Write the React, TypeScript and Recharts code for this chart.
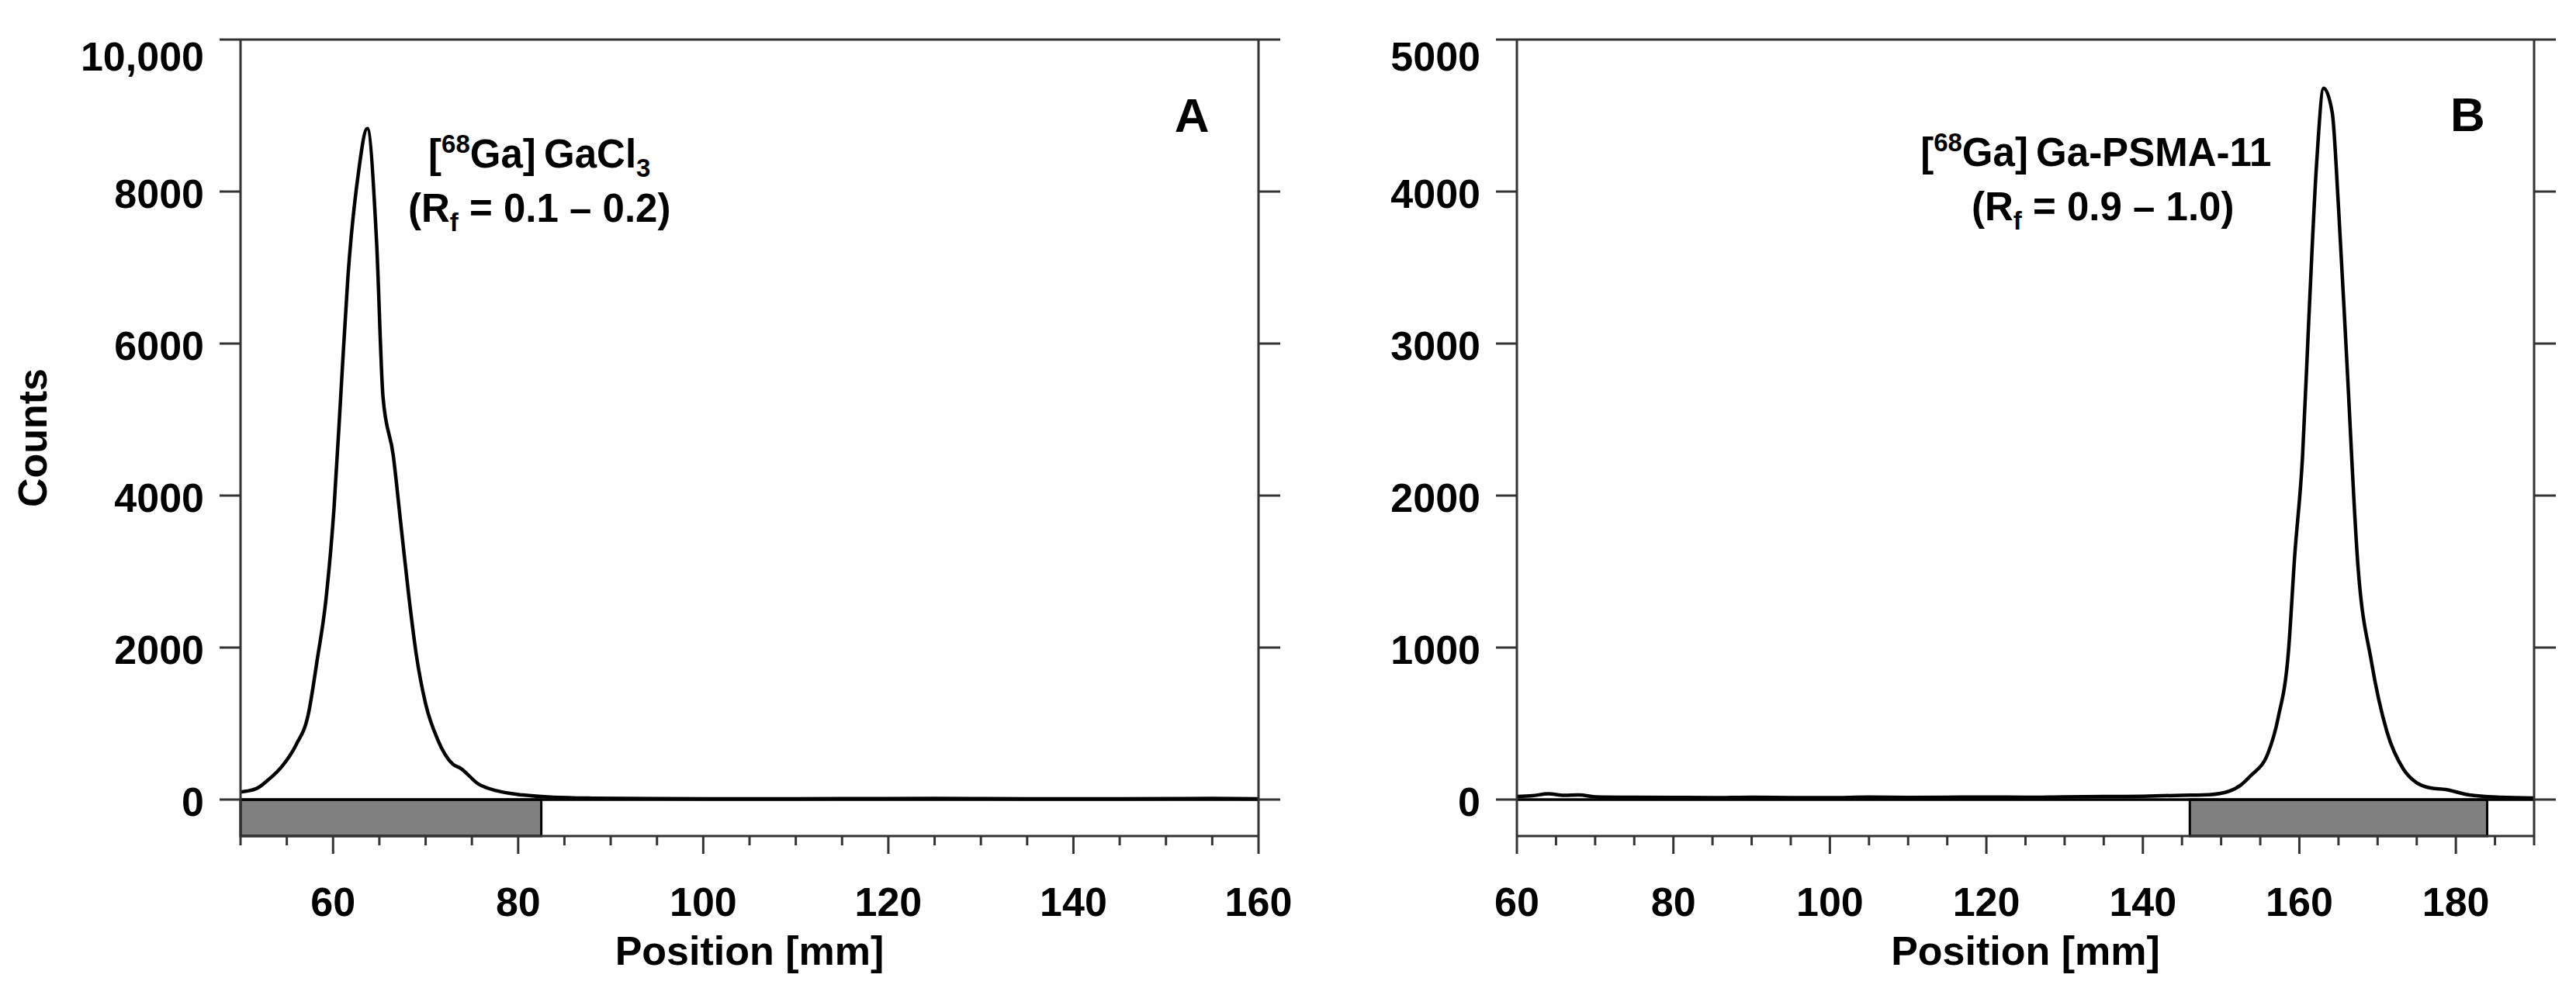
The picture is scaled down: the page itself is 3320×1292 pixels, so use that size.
import React from 'react';
import {
  ComposedChart,
  Line,
  XAxis,
  YAxis,
  ReferenceArea,
  ReferenceLine,
  ReferenceDot,
} from 'recharts';

const FONT = '"Liberation Sans", Arial, Helvetica, sans-serif';
const FRAME = '#333333';

// ---- panel A: [68Ga]GaCl3 ----
const positionA = [
  50, 51.7, 53, 54.5, 56, 57.3, 58.3, 59.2, 60.1, 60.9, 61.6, 62.7, 63.7, 64.7, 65.4, 66.5,
  67.3, 68.2, 69, 70, 71.3, 72.9, 73.8, 75.7, 77.7, 80.5, 83.8, 88, 95, 105, 115, 125, 135,
  145, 155, 160,
];
const countsA = [
  100, 143, 260, 440, 720, 1110, 1850, 2600, 3830, 5460, 6870, 8210, 8830, 7340, 5290, 4530,
  3650, 2660, 1900, 1260, 790, 470, 410, 205, 115, 60, 30, 18, 12, 10, 12, 14, 10,
  10, 14, 10,
];
const xTicksA = [50, 55, 60, 65, 70, 75, 80, 85, 90, 95, 100, 105, 110, 115, 120, 125, 130, 135, 140, 145, 150, 155, 160];
const yTicksA = [0, 2000, 4000, 6000, 8000, 10000];
const xDomainA = [50, 160];
const yDomainA = [-480, 10000];
const rfZoneA = [50, 82.5];

// ---- panel B: [68Ga]Ga-PSMA-11 ----
const positionB = [
  60, 62, 64, 66, 68, 70, 75, 80, 85, 90, 95, 100, 105, 110, 115, 120, 125, 130, 135, 140,
  145, 147.7, 150.4, 152.5, 153.7, 156, 157.3, 158.6, 159.4, 160.4, 161.2, 162.2, 163.1,
  164.2, 165, 166, 167.5, 169.2, 171.2, 173.3, 175, 176.8, 178.7, 181.7, 185.7, 190,
];
const countsB = [
  20, 25, 38, 28, 30, 18, 15, 14, 12, 15, 13, 12, 16, 14, 15, 17, 15, 18, 20, 22,
  28, 30, 46, 95, 153, 306, 540, 970, 1600, 2250, 3150, 4180, 4680,
  4520, 3900, 2950, 1530, 910, 445, 200, 110, 76, 66, 30, 15, 10,
];
const xTicksB = [60, 65, 70, 75, 80, 85, 90, 95, 100, 105, 110, 115, 120, 125, 130, 135, 140, 145, 150, 155, 160, 165, 170, 175, 180, 185, 190];
const yTicksB = [0, 1000, 2000, 3000, 4000, 5000];
const xDomainB = [60, 190];
const yDomainB = [-240, 5000];
const rfZoneB = [146, 184];

const textStyle = { fontFamily: FONT, fontWeight: 'bold' as const, fill: '#000' };

const BottomTick = (props: any) => {
  const { x, y, payload } = props;
  const major = payload.value % 20 === 0;
  return (
    <g>
      <line x1={x} x2={x} y1={y} y2={y + (major ? 23 : 12)} stroke={FRAME} strokeWidth={3} />
      {major && (
        <text x={x} y={y + 85} textAnchor="middle" dominantBaseline="central" fontSize={52} {...textStyle}>
          {payload.value}
        </text>
      )}
    </g>
  );
};

const TopTick = (props: any) => {
  const { x, y, payload } = props;
  const major = payload.value % 20 === 0;
  return <line x1={x} x2={x} y1={y} y2={y - (major ? 20 : 9)} stroke={FRAME} strokeWidth={3} />;
};

const makeLeftTick = (top: number) => (props: any) => {
  const { x, y, payload } = props;
  const label = payload.value >= 10000 ? payload.value.toLocaleString('en-US') : String(payload.value);
  return (
    <g>
      <line x1={x - 27} x2={x} y1={y} y2={y} stroke={FRAME} strokeWidth={3} />
      <text
        x={x - 47}
        y={y + (payload.value === top ? 22 : 3)}
        textAnchor="end"
        dominantBaseline="central"
        fontSize={52}
        {...textStyle}
      >
        {label}
      </text>
    </g>
  );
};

const RightTick = (props: any) => {
  const { x, y } = props;
  return <line x1={x} x2={x + 28} y1={y} y2={y} stroke={FRAME} strokeWidth={3} />;
};

const Panel = ({
  width,
  positions,
  counts,
  xDomain,
  yDomain,
  xTicks,
  yTicks,
  zone,
  leftWidth,
  rightWidth,
  showYTitle,
  annotation,
  letter,
}: any) => {
  const data = positions.map((p: number, i: number) => ({ position: p, counts: counts[i] }));
  const LeftTick = makeLeftTick(yDomain[1]);
  return (
    <ComposedChart width={width} height={1292} data={data} margin={{ top: 0, right: 0, bottom: 0, left: 0 }}>
      <XAxis
        xAxisId="top"
        orientation="top"
        type="number"
        domain={xDomain}
        ticks={xTicks}
        interval={0}
        height={51}
        allowDataOverflow
        tickSize={0}
        tickMargin={0}
        tickLine={false}
        tick={TopTick}
        axisLine={{ stroke: FRAME, strokeWidth: 3 }}
      />
      <XAxis
        xAxisId="bottom"
        dataKey="position"
        type="number"
        domain={xDomain}
        ticks={xTicks}
        interval={0}
        height={214}
        allowDataOverflow
        tickSize={0}
        tickMargin={0}
        tickLine={false}
        tick={BottomTick}
        axisLine={{ stroke: FRAME, strokeWidth: 3 }}
        label={{
          content: (p: any) => {
            const vb = p.viewBox || { x: 0, y: 0, width: 0 };
            return (
              <text x={vb.x + vb.width / 2} y={vb.y + 166} textAnchor="middle" fontSize={52} {...textStyle}>
                Position [mm]
              </text>
            );
          },
        }}
      />
      <YAxis
        yAxisId="left"
        type="number"
        domain={yDomain}
        ticks={yTicks}
        interval={0}
        width={leftWidth}
        allowDataOverflow
        tickSize={0}
        tickMargin={0}
        tickLine={false}
        tick={LeftTick}
        axisLine={{ stroke: FRAME, strokeWidth: 3 }}
        label={
          showYTitle
            ? {
                content: (p: any) => {
                  const vb = p.viewBox || { x: 0, y: 0, height: 0 };
                  const cx = vb.x + 42;
                  const cy = vb.y + vb.height / 2;
                  return (
                    <text
                      x={cx}
                      y={cy}
                      transform={`rotate(-90, ${cx}, ${cy})`}
                      textAnchor="middle"
                      dominantBaseline="central"
                      fontSize={52}
                      {...textStyle}
                    >
                      Counts
                    </text>
                  );
                },
              }
            : undefined
        }
      />
      <YAxis
        yAxisId="right"
        orientation="right"
        type="number"
        domain={yDomain}
        ticks={yTicks}
        interval={0}
        width={rightWidth}
        allowDataOverflow
        tickSize={0}
        tickMargin={0}
        tickLine={false}
        tick={RightTick}
        axisLine={{ stroke: FRAME, strokeWidth: 3 }}
      />
      <ReferenceArea
        xAxisId="bottom"
        yAxisId="left"
        x1={zone[0]}
        x2={zone[1]}
        y1={yDomain[0]}
        y2={0}
        fill="#808080"
        fillOpacity={1}
        stroke="#000"
        strokeWidth={3}
      />
      <ReferenceLine xAxisId="bottom" yAxisId="left" y={0} stroke="#000" strokeWidth={3.5} />
      <Line
        xAxisId="bottom"
        yAxisId="left"
        type="monotone"
        dataKey="counts"
        stroke="#000"
        strokeWidth={4.5}
        strokeLinejoin="round"
        dot={false}
        isAnimationActive={false}
      />
      <ReferenceDot
        xAxisId="bottom"
        yAxisId="left"
        x={annotation.x}
        y={annotation.y}
        r={0}
        fill="none"
        stroke="none"
        label={{
          content: (p: any) => {
            const vb = p.viewBox || { x: 0, y: 0 };
            return (
              <g>
                <text x={vb.x} y={vb.y} textAnchor="middle" fontSize={51} {...textStyle}>
                  [<tspan dy={-19} fontSize={33}>68</tspan>
                  <tspan dy={19}>Ga]{'\u2009'}{annotation.name}</tspan>
                  {annotation.sub && (
                    <tspan dy={12} fontSize={33}>
                      {annotation.sub}
                    </tspan>
                  )}
                </text>
                <text x={vb.x + annotation.dx2} y={vb.y + 70} textAnchor="middle" fontSize={51} {...textStyle}>
                  (R<tspan dy={12} fontSize={33}>f</tspan>
                  <tspan dy={-12}> = {annotation.rf})</tspan>
                </text>
              </g>
            );
          },
        }}
      />
      <ReferenceDot
        xAxisId="bottom"
        yAxisId="left"
        x={letter.x}
        y={letter.y}
        r={0}
        fill="none"
        stroke="none"
        label={{
          content: (p: any) => {
            const vb = p.viewBox || { x: 0, y: 0 };
            return (
              <text x={vb.x} y={vb.y} textAnchor="middle" fontSize={62} {...textStyle}>
                {letter.text}
              </text>
            );
          },
        }}
      />
    </ComposedChart>
  );
};

export default function App() {
  return (
    <div
      style={{
        position: 'absolute',
        left: 0,
        top: 0,
        width: 3320,
        height: 1292,
        background: '#fff',
        display: 'flex',
      }}
    >
      <Panel
        width={1700}
        positions={positionA}
        counts={countsA}
        xDomain={xDomainA}
        yDomain={yDomainA}
        xTicks={xTicksA}
        yTicks={yTicksA}
        zone={rfZoneA}
        leftWidth={310}
        rightWidth={78}
        showYTitle
        annotation={{ x: 82.3, y: 8320, name: 'GaCl', sub: '3', rf: '0.1 \u2013 0.2', dx2: 0 }}
        letter={{ x: 152.8, y: 8790, text: 'A' }}
      />
      <Panel
        width={1620}
        positions={positionB}
        counts={countsB}
        xDomain={xDomainB}
        yDomain={yDomainB}
        xTicks={xTicksB}
        yTicks={yTicksB}
        zone={rfZoneB}
        leftWidth={255}
        rightWidth={54}
        showYTitle={false}
        annotation={{ x: 134, y: 4170, name: 'Ga-PSMA-11', sub: '', rf: '0.9 \u2013 1.0', dx2: 9 }}
        letter={{ x: 181.5, y: 4400, text: 'B' }}
      />
    </div>
  );
}
